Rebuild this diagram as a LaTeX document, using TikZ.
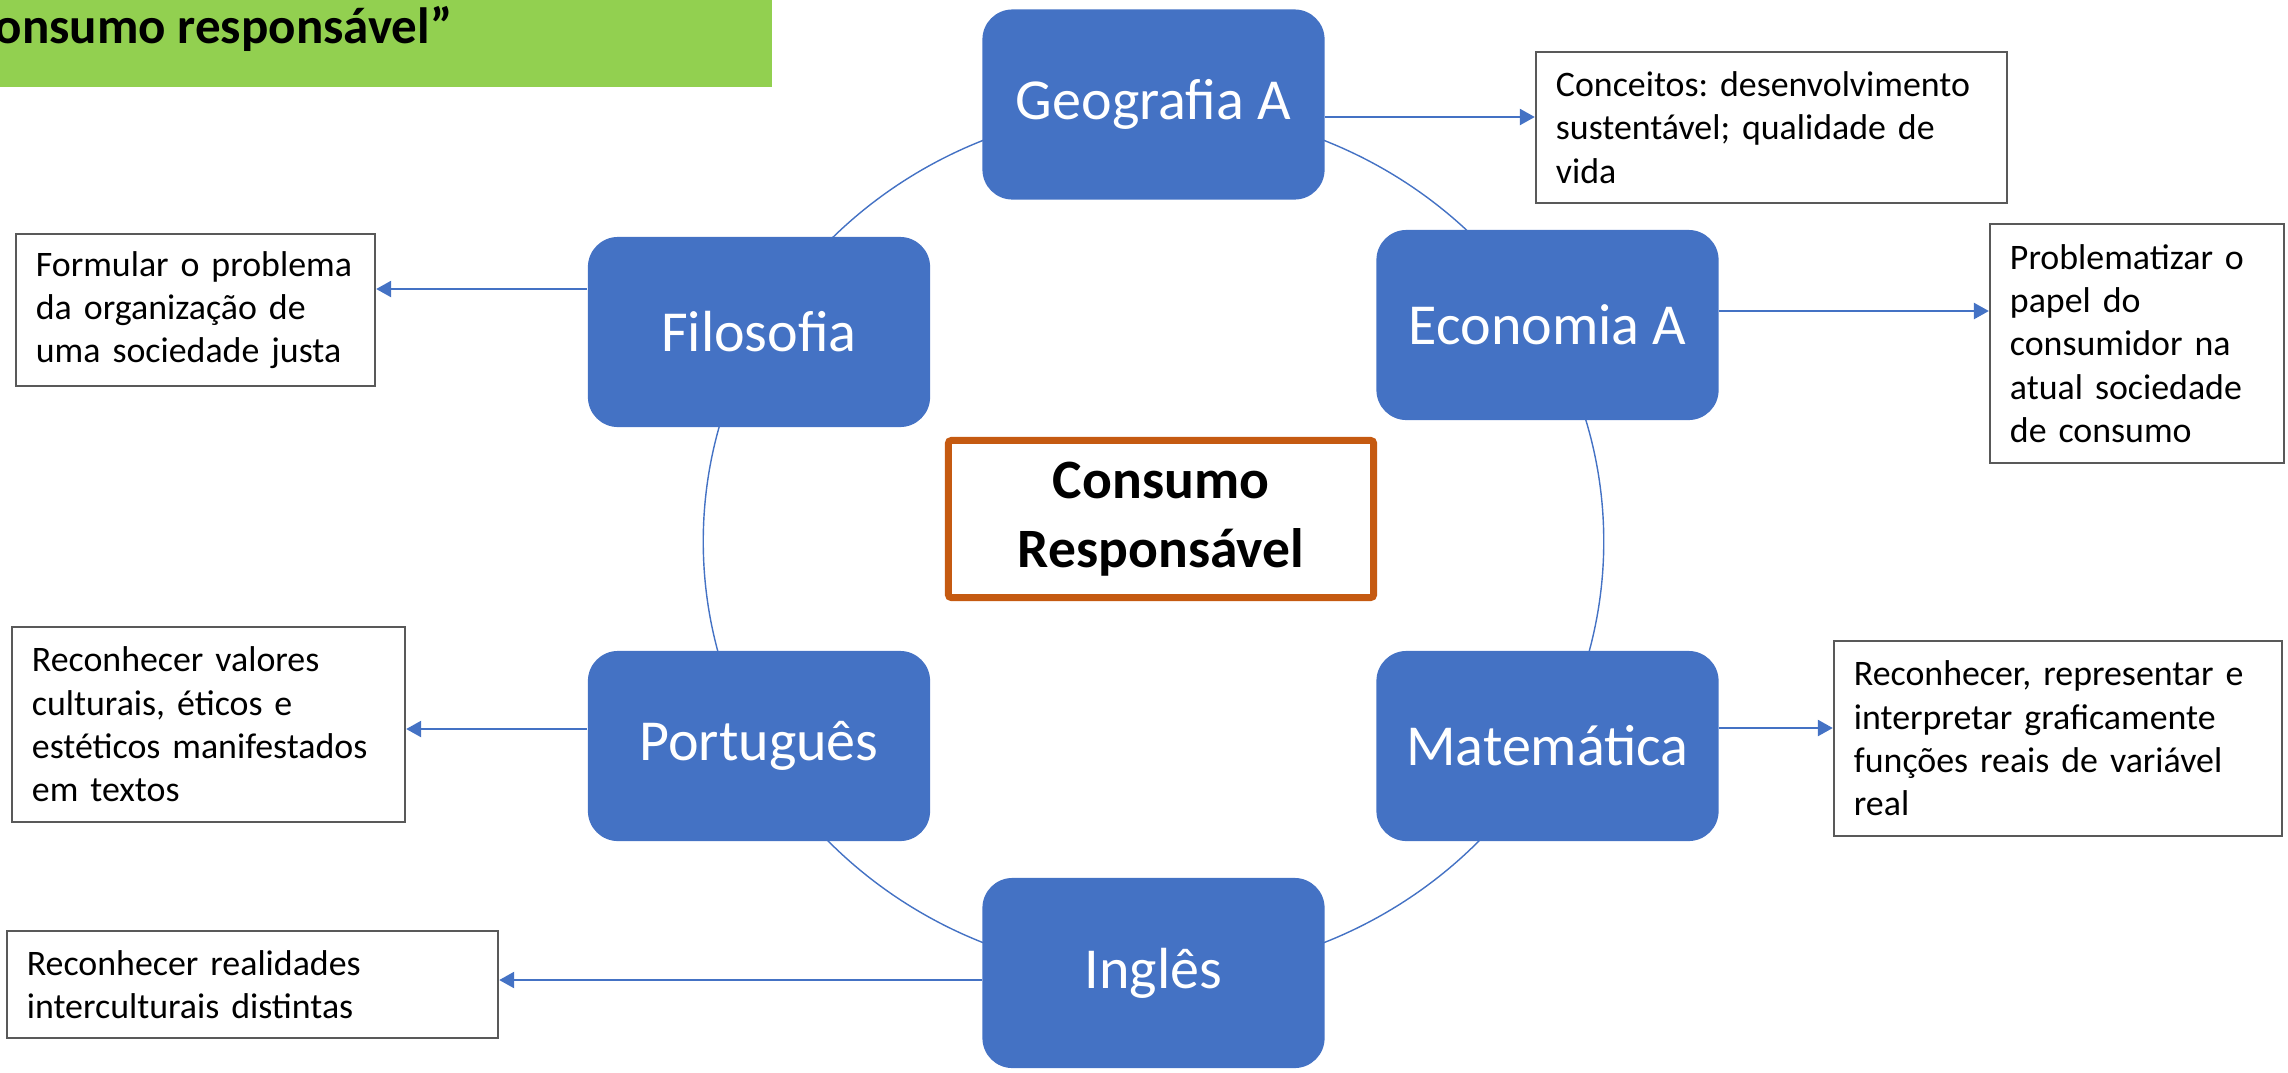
\documentclass[tikz,border=0pt]{standalone}
\usepackage{fontspec}
\setmainfont{Carlito}
\usepackage{tikz}
\usetikzlibrary{arrows.meta}
\definecolor{SubjectBlue}{HTML}{4472C4}
\definecolor{TopicOrange}{HTML}{C55A11}
\definecolor{BannerGreen}{HTML}{92D050}
\frenchspacing

\begin{document}
\begin{tikzpicture}[x=0.01cm, y=-0.01cm,
    subject/.style={fill=SubjectBlue, text=white, rounded corners=0.3cm,
      minimum width=3.42cm, minimum height=1.9cm,
      font=\fontsize{16.5}{20}\selectfont},
    note/.style={draw=black!65, line width=0.6pt, fill=white, align=left,
      inner xsep=0.2cm, inner ysep=0pt, font=\fontsize{10.2}{12.3}\selectfont},
    link/.style={draw=SubjectBlue, line width=0.7pt,
      -{Triangle[length=0.15cm, width=0.16cm]}},
    ring/.style={draw=SubjectBlue, line width=0.4pt}]
    \useasboundingbox (0,0) rectangle (2288,1072);

    % title strip, cut at the left edge
    \fill[BannerGreen] (-5,-5) rectangle (772,87);
    \node[anchor=base west, inner sep=0pt,
          font=\bfseries\fontsize{14.5}{17}\selectfont] (title) at (-6,43) {onsumo responsável”};

    % cycle behind the subjects
    \coordinate (hub) at (1153.5,541.5);
    \draw[ring] (hub) ellipse [x radius=4.5cm, y radius=4.33cm];

    \node[subject] (geo)  at (1153.5,104.5) {Geografia A};
    \node[subject] (filo) at (759,332)      {Filosofia};
    \node[subject] (eco)  at (1547.5,325)   {Economia A};
    \node[subject] (port) at (759,746)      {Português};
    \node[subject] (mat)  at (1547.5,746)   {Matemática};
    \node[subject] (ing)  at (1153.5,973)   {Inglês};

    \node[draw=TopicOrange, line width=0.07cm, rounded corners=0.03cm,
          minimum width=4.25cm, minimum height=1.57cm, align=center,
          font=\bfseries\fontsize{15.8}{19.6}\selectfont] (topic) at (1161,519) {Consumo\\Responsável};

    % notes
    \node[note, text width=4.31cm, minimum height=1.51cm] (concept) at (1771.5,127.5)
        {Conceitos: desenvolvimento\\sustentável; qualidade de\\vida};
    \node[note, text width=3.19cm, minimum height=1.52cm] (formular) at (195.5,310)
        {Formular o problema\\da organização de\\uma sociedade justa};
    \node[note, text width=2.54cm, minimum height=2.39cm] (problem) at (2137,343.5)
        {Problematizar o\\papel do\\consumidor na\\atual sociedade\\de consumo};
    \node[note, text width=3.53cm, minimum height=1.95cm] (valores) at (208.5,724.5)
        {Reconhecer valores\\culturais, éticos e\\estéticos manifestados\\em textos};
    \node[note, text width=4.08cm, minimum height=1.95cm] (graf) at (2058,738.5)
        {Reconhecer, representar e\\interpretar graficamente\\funções reais de variável\\real};
    \node[note, text width=4.51cm, minimum height=1.07cm] (realid) at (252.5,984.5)
        {Reconhecer realidades\\interculturais distintas};

    \draw[link] (geo.east |- 0,117)  -- (concept.west |- 0,117);
    \draw[link] (filo.west |- 0,289) -- (formular.east |- 0,289);
    \draw[link] (eco.east |- 0,311)  -- (problem.west |- 0,311);
    \draw[link] (port.west |- 0,729) -- (valores.east |- 0,729);
    \draw[link] (mat.east |- 0,728)  -- (graf.west |- 0,728);
    \draw[link] (ing.west |- 0,980)  -- (realid.east |- 0,980);
\end{tikzpicture}
\end{document}
